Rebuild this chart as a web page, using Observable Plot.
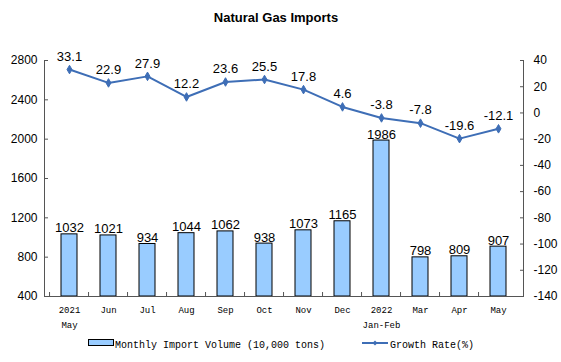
<!DOCTYPE html>
<html><head><meta charset="utf-8">
<script src="https://cdn.jsdelivr.net/npm/d3@7"></script>
<script src="https://cdn.jsdelivr.net/npm/@observablehq/plot@0.6"></script>
<style>
body{margin:0;background:#fff;}
#wrap{position:relative;width:561px;height:362px;overflow:hidden;font-family:"Liberation Sans",Arial,sans-serif;}
#title{position:absolute;top:10px;left:276px;transform:translateX(-50%);font-weight:bold;font-size:13px;white-space:nowrap;color:#000;}
#chart{position:absolute;top:40px;left:0;}
#legend{position:absolute;top:330px;left:0;}
</style>
</head><body>
<div id="wrap">
  <div id="title">Natural Gas Imports</div>
  <div id="chart"></div>
  <div id="legend"></div>
</div>
<script>
const categories = ["2021\nMay","Jun","Jul","Aug","Sep","Oct","Nov","Dec","2022\nJan-Feb","Mar","Apr","May"];
const volume = [1032,1021,934,1044,1062,938,1073,1165,1986,798,809,907];
const growth = [33.1,22.9,27.9,12.2,23.6,25.5,17.8,4.6,-3.8,-7.8,-19.6,-12.1];
const leftTicks = [400,800,1200,1600,2000,2400,2800];
const rightTicks = [-140,-120,-100,-80,-60,-40,-20,0,20,40];
const seriesNames = ["Monthly Import Volume (10,000 tons)","Growth Rate(%)"];

const barColor = "#99CCFF";
const lineColor = "#3E6EB6";
const axisColor = "#555";

const W = 561, H = 290, mT = 20, mB = 34, mL = 44, mR = 38;
const bandW = (W - mL - mR) / categories.length;

const yMin = leftTicks[0], yMax = leftTicks[leftTicks.length-1];
const gMin = rightTicks[0], gMax = rightTicks[rightTicks.length-1];
const toY = g => yMin + (g - gMin) * (yMax - yMin) / (gMax - gMin);
const fromY = y => gMin + (y - yMin) * (gMax - gMin) / (yMax - yMin);

const data = categories.map((c,i) => ({cat:c, vol:volume[i], g:growth[i], gy:toY(growth[i])}));

const chart = Plot.plot({
  width:W, height:H,
  marginTop:mT, marginBottom:mB, marginLeft:mL, marginRight:mR,
  style:{background:"#fff", color:"#000", fontFamily:"Liberation Sans, Arial, sans-serif"},
  x:{type:"band", domain:categories, paddingInner:0.6, paddingOuter:0.3, axis:null},
  y:{domain:[yMin,yMax], axis:null},
  marks:[
    Plot.barY(data,{x:"cat", y1:yMin, y2:"vol", fill:barColor, stroke:"#000", strokeWidth:1}),
    Plot.frame({anchor:"left", stroke:axisColor}),
    Plot.frame({anchor:"right", stroke:axisColor}),
    Plot.frame({anchor:"bottom", stroke:axisColor}),
    Plot.axisY({anchor:"left", ticks:leftTicks, tickSize:0, tickPadding:7, tickFormat:d=>String(d), fontSize:12, fill:"#000", label:null}),
    Plot.axisY({anchor:"left", ticks:leftTicks, tickSize:4, dx:4, tickFormat:()=>"", stroke:axisColor, label:null}),
    Plot.axisY({anchor:"right", ticks:rightTicks.map(toY), tickSize:0, tickPadding:10, tickFormat:y=>String(Math.round(fromY(y))), fontSize:12, fill:"#000", label:null}),
    Plot.axisY({anchor:"right", ticks:rightTicks.map(toY), tickSize:4, dx:-4, tickFormat:()=>"", stroke:axisColor, label:null}),
    Plot.axisX({anchor:"bottom", tickSize:4, dy:-4, dx:-bandW/2, tickFormat:()=>"", stroke:axisColor, label:null}),
    Plot.axisX({anchor:"bottom", tickSize:0, tickPadding:6, fontFamily:"Liberation Mono, monospace", fontSize:9, lineHeight:1.65, fill:"#000", label:null}),
    Plot.text(data,{x:"cat", y:"vol", text:d=>String(d.vol), lineAnchor:"bottom", dy:-2, fontSize:13, fill:"#000"}),
    Plot.line(data,{x:"cat", y:"gy", stroke:lineColor, strokeWidth:2}),
    Plot.dot(data,{x:"cat", y:"gy", symbol:"diamond", r:2.6, fill:lineColor, stroke:lineColor, strokeWidth:1}),
    Plot.text(data,{x:"cat", y:"gy", text:d=>String(d.g), dy:-13, fontSize:13, fill:"#000"})
  ]
});
document.getElementById("chart").appendChild(chart);

// legend
const lg = d3.select("#legend").append("svg").attr("width",561).attr("height",30);
lg.append("rect").attr("x",88.5).attr("y",9.5).attr("width",25).attr("height",6).attr("fill",barColor).attr("stroke","#000");
lg.append("text").attr("x",115).attr("y",18).attr("font-family","Liberation Mono, monospace").attr("font-size",10).attr("fill","#000").text(seriesNames[0]);
lg.append("line").attr("x1",362).attr("x2",388).attr("y1",13).attr("y2",13).attr("stroke",lineColor).attr("stroke-width",2);
lg.append("path").attr("d","M375,10.5L377.5,13L375,15.5L372.5,13Z").attr("fill",lineColor);
lg.append("text").attr("x",390).attr("y",18).attr("font-family","Liberation Mono, monospace").attr("font-size",10).attr("fill","#000").text(seriesNames[1]);
</script>
</body></html>
